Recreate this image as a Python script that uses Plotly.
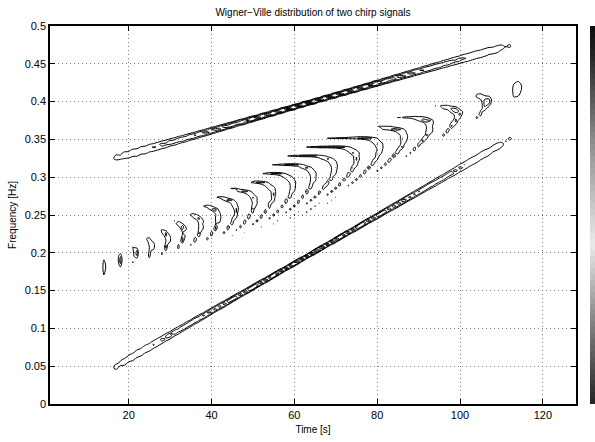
import numpy as np
import plotly.graph_objects as go

# ---- signal description ----
N_SAMPLES = 128                 # time samples 1..128
CHIRP_START_FREQ = [0.0, 0.3]   # normalized start frequencies of the two chirps
CHIRP_END_FREQ = [0.4, 0.5]     # normalized end frequencies of the two chirps
THRESHOLD_PCT = 24.0            # contour visualization threshold (% of max)
N_LEVELS = 6                    # number of contour levels

X_TICKS = [20, 40, 60, 80, 100, 120]
Y_TICKS = [0, 0.05, 0.1, 0.15, 0.2, 0.25, 0.3, 0.35, 0.4, 0.45, 0.5]
Y_TICK_TEXT = ["0", "0.05", "0.1", "0.15", "0.2", "0.25", "0.3", "0.35", "0.4", "0.45", "0.5"]

TITLE = "Wigner\u2212Ville distribution of two chirp signals"
X_LABEL = "Time [s]"
Y_LABEL = "Frequency [Hz]"


def fmlin(n, fi, ff):
    t = np.arange(1, n + 1)
    t0 = n / 2
    phi = fi * (t - t0) + ((ff - fi) / (2.0 * (n - 1))) * ((t - 1) ** 2 - (t0 - 1) ** 2)
    return np.exp(1j * 2 * np.pi * phi)


def wigner_ville(x):
    n = len(x)
    tfr = np.zeros((n, n), dtype=complex)
    for icol in range(n):
        ti = icol + 1
        taumax = min(ti - 1, n - ti, int(round(n / 2)) - 1)
        tau = np.arange(-taumax, taumax + 1)
        idx = (n + tau) % n
        tfr[idx, icol] = x[ti - 1 + tau] * np.conj(x[ti - 1 - tau])
    return np.real(np.fft.fft(tfr, axis=0))


sig = sum(fmlin(N_SAMPLES, a, b) for a, b in zip(CHIRP_START_FREQ, CHIRP_END_FREQ))
tfr = wigner_ville(sig)
t_axis = np.arange(1, N_SAMPLES + 1)
f_axis = np.arange(N_SAMPLES) / (2.0 * N_SAMPLES)

maxi = tfr.max()
lo = maxi * THRESHOLD_PCT / 100.0
step = (maxi - lo) / (N_LEVELS - 1)

# colormap of the side colour strip (bottom -> top)
cmap = [[0.0, "rgb(40,40,40)"], [0.2, "rgb(125,125,125)"], [0.42, "rgb(235,235,235)"],
        [0.7, "rgb(140,140,140)"], [0.92, "rgb(40,40,40)"], [1.0, "rgb(15,15,15)"]]
strip_vals = np.linspace(0, 1, 64)

FONT = "Liberation Sans, Arial, sans-serif"

# pixel layout -> paper fractions
FIG_W, FIG_H = 595, 442
M_L, M_R, M_T, M_B = 50, 0, 26, 38
paper_w = FIG_W - M_L - M_R
plot_right_px = 576
strip_left_px = 590

fig = go.Figure()
fig.add_trace(go.Contour(
    x=t_axis, y=f_axis, z=tfr,
    contours=dict(start=lo, end=maxi, size=step, coloring="lines"),
    colorscale=[[0, "black"], [1, "black"]],
    line=dict(width=1),
    showscale=False,
    hoverinfo="skip",
))
# colour strip (colorbar look-alike)
fig.add_trace(go.Heatmap(
    z=[[v] for v in strip_vals], x=[0], y=list(range(len(strip_vals))),
    colorscale=cmap, zmin=0, zmax=1, showscale=False, hoverinfo="skip",
    xaxis="x2", yaxis="y2",
))

axis_common = dict(
    showline=True, linecolor="black", linewidth=1.5, mirror="ticks",
    ticks="inside", ticklen=5, tickcolor="black",
    showgrid=True, gridcolor="rgb(130,130,130)", griddash="1px,3px", gridwidth=1,
    zeroline=False, automargin=False,
    tickfont=dict(family=FONT, size=11, color="black"),
)

fig.update_layout(
    width=FIG_W, height=FIG_H,
    margin=dict(l=M_L, r=M_R, t=M_T, b=M_B, autoexpand=False),
    paper_bgcolor="white", plot_bgcolor="white",
    title=dict(text=TITLE, x=(50 + 263) / FIG_W, xanchor="center", y=0.98, yanchor="top",
               font=dict(family=FONT, size=10, color="black")),
    xaxis=dict(range=[1, 128], tickvals=X_TICKS, domain=[0, (plot_right_px - M_L) / paper_w],
               **axis_common,
               title=dict(text=X_LABEL, standoff=6, font=dict(family=FONT, size=10, color="black"))),
    yaxis=dict(range=[0, 0.5], tickvals=Y_TICKS, ticktext=Y_TICK_TEXT, **axis_common,
               title=dict(text=Y_LABEL, standoff=6, font=dict(family=FONT, size=10, color="black"))),
    xaxis2=dict(domain=[(strip_left_px - M_L) / paper_w, 1.0], visible=False, anchor="y2",
                range=[-0.5, 0.5]),
    yaxis2=dict(domain=[0, 1], visible=False, anchor="x2", range=[-0.5, len(strip_vals) - 0.5]),
    showlegend=False,
)

fig.write_html("out.html", config={"displayModeBar": False},
               post_script="document.body.style.margin='0';document.body.style.overflow='hidden';")
